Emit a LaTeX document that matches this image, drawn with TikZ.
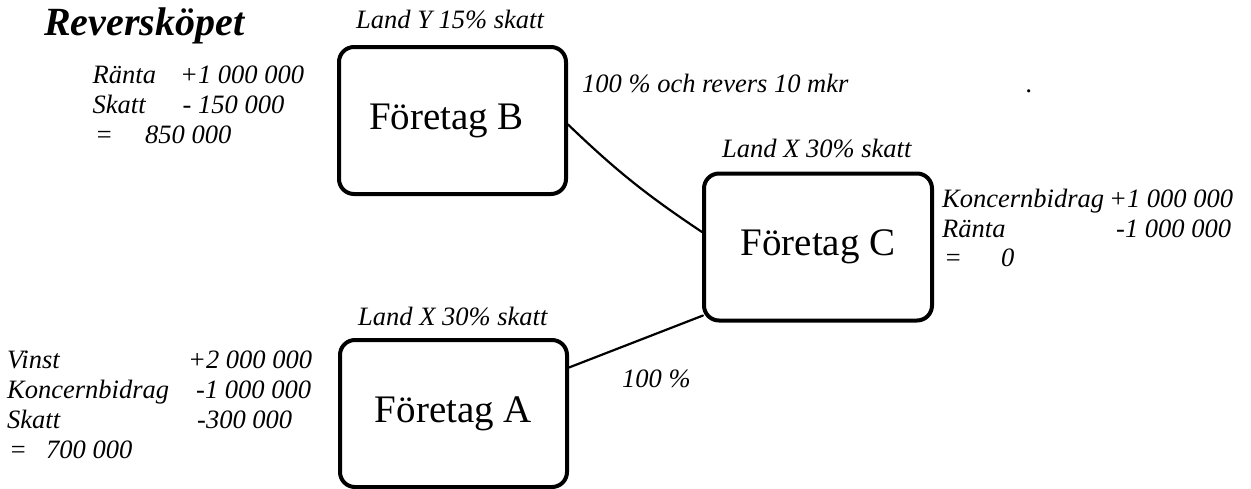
\documentclass[tikz,border=0pt]{standalone}
\usepackage{fontspec}
\setmainfont{Liberation Serif}
\begin{document}
\begin{tikzpicture}[x=1pt,y=-1pt,
  firm/.style={draw=black,line width=4pt,rounded corners=15pt,fill=white,
    minimum width=#1,minimum height=147pt,inner sep=0pt,
    font=\fontsize{39}{44}\selectfont},
  lbl/.style={anchor=base west,inner sep=0pt,font=\fontsize{26.5}{30}\selectfont\itshape},
  conn/.style={line width=2.2pt,line cap=round}]
\useasboundingbox (0,0) rectangle (1251,488);
% boxes
\node[firm=227pt] (B) at (452.5,120.5) {Företag B\hspace*{12pt}};
\node[firm=228pt] (C) at (818,247) {Företag C};
\node[firm=227pt] (A) at (453.5,413.5) {Företag A};
% connectors
\draw[conn] ([yshift=-4pt]B.east) to[bend right=5] ([yshift=15pt]C.west);
\draw[conn] ([yshift=46pt]A.east) -- ([xshift=1pt,yshift=7pt]C.south west);
% title
\node[anchor=base west,inner sep=0pt,font=\fontsize{40}{44}\selectfont\bfseries\itshape] (title) at (44,35) {Reversköpet};
% tax labels
\node[lbl] (landY) at (356,28) {Land Y 15\% skatt};
\node[lbl] (landXC) at (722,157) {Land X 30\% skatt};
\node[lbl] (landXA) at (358,325) {Land X 30\% skatt};
% edge labels
\node[lbl] (revers) at (582,92) {100 \% och revers 10 mkr};
\node[lbl] (hundra) at (622,387) {100 \%};
\node[lbl] (dot) at (1026,92) {.};
% B block
\node[lbl] (b1a) at (92.5,83) {Ränta};
\node[lbl] (b1b) at (180,83) {+1 000 000};
\node[lbl] (b2a) at (92.5,113) {Skatt};
\node[lbl] (b2b) at (182.5,113) {- 150 000};
\node[lbl] (b3a) at (95,143) {=};
\node[lbl] (b3b) at (145,143) {850 000};
% C block
\node[lbl] (c1a) at (942,207) {Koncernbidrag};
\node[lbl] (c1b) at (1109,207) {+1 000 000};
\node[lbl] (c2a) at (942,237) {Ränta};
\node[lbl] (c2b) at (1116,237) {-1 000 000};
\node[lbl] (c3a) at (944,266) {=};
\node[lbl] (c3b) at (1001,266) {0};
% A block
\node[lbl] (a1a) at (7,368) {Vinst};
\node[lbl] (a1b) at (188,368) {+2 000 000};
\node[lbl] (a2a) at (7,398) {Koncernbidrag};
\node[lbl] (a2b) at (196,398) {-1 000 000};
\node[lbl] (a3a) at (7,428) {Skatt};
\node[lbl] (a3b) at (197,428) {-300 000};
\node[lbl] (a4a) at (9,458) {=};
\node[lbl] (a4b) at (46,458) {700 000};
\end{tikzpicture}
\end{document}
